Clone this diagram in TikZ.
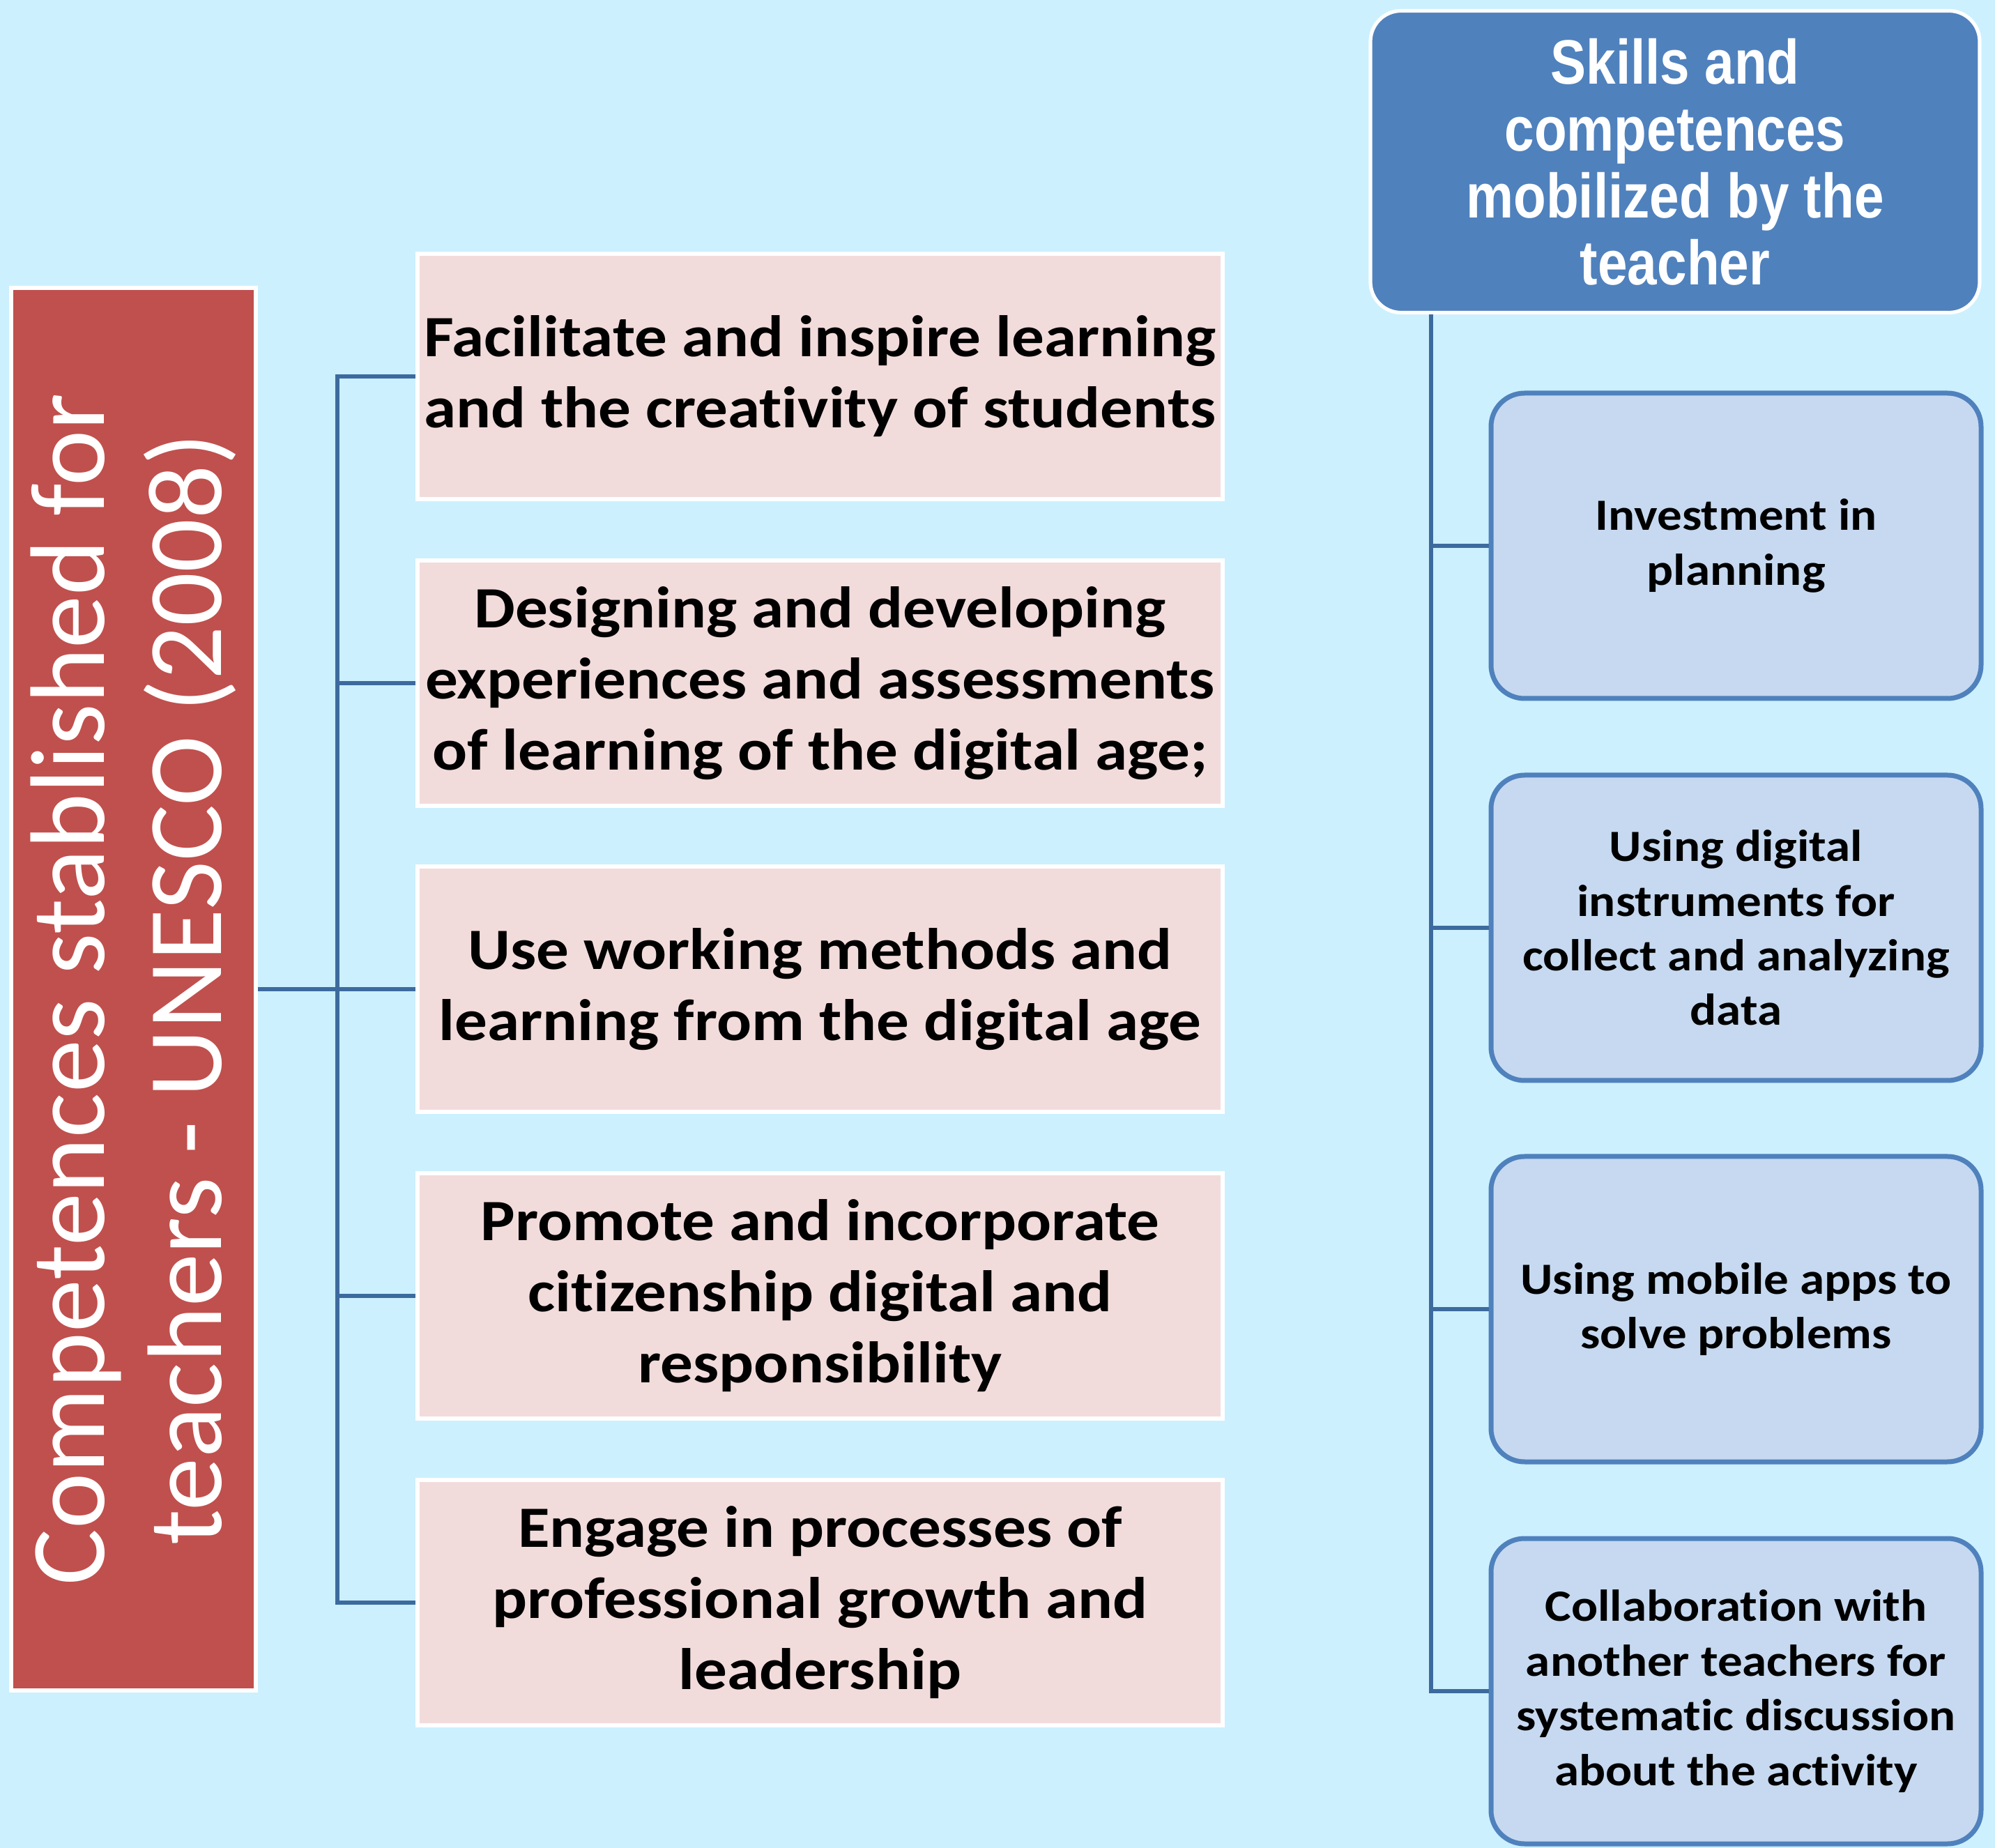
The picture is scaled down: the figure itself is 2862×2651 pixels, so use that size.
\documentclass[tikz,border=0pt]{standalone}
\usepackage{fontspec}
\setmainfont{Carlito}
\newfontfamily\boxfont[FakeStretch=1.11, Ligatures=NoCommon]{Carlito}
\newfontfamily\narrowfont[FakeStretch=0.85]{Liberation Sans}
\definecolor{bgc}{HTML}{CCF0FE}
\definecolor{redbox}{HTML}{C0504D}
\definecolor{pinkbox}{HTML}{F2DCDB}
\definecolor{headblue}{HTML}{4F81BD}
\definecolor{itemblue}{HTML}{C6D9F0}
\definecolor{linkblue}{HTML}{3D6A9E}
\tikzset{
  conn/.style={draw=linkblue, line width=1.3pt},
  pinkitem/.style={rectangle, fill=pinkbox, draw=white, line width=1.5pt,
    minimum width=288.75pt, minimum height=88pt, align=center, inner sep=0pt,
    font=\boxfont\fontsize{21}{25.5}\selectfont\bfseries},
  blueitem/.style={rectangle, rounded corners=12pt, fill=itemblue, draw=headblue,
    line width=1.75pt, minimum width=175.75pt, minimum height=109.5pt,
    align=center, inner sep=0pt, font=\boxfont\fontsize{16}{19.6}\selectfont\bfseries},
  headbox/.style={rectangle, rounded corners=11pt, fill=headblue, draw=white,
    line width=1.3pt, minimum width=218.5pt, minimum height=108.25pt,
    align=center, inner sep=0pt, text=white,
    font=\narrowfont\fontsize{22.5}{24}\selectfont\bfseries},
  sidebox/.style={rectangle, fill=redbox, draw=white, line width=1.3pt,
    minimum width=87.75pt, minimum height=503pt, inner sep=0pt},
}
\begin{document}
\begin{tikzpicture}[x=0.25pt, y=-0.25pt]
  \fill[bgc] (0,0) rectangle (2862,2651);
  \useasboundingbox (0,0) rectangle (2862,2651);

  % left column: UNESCO competences
  \node[sidebox] (side) at (191.5,1419) {};
  \node[rotate=90, text=white, align=center,
        font=\fontsize{38}{42}\selectfont] (sidetext) at (side.center)
    {Competences stablished for\\teachers - UNESCO (2008)};

  \node[pinkitem] (p1) at (1176.5,540)
    {Facilitate and inspire learning\\and the creativity of students};
  \node[pinkitem] (p2) at (1176.5,980)
    {Designing and developing\\experiences and assessments\\of learning of the digital age;};
  \node[pinkitem] (p3) at (1176.5,1419)
    {Use working methods and\\learning from the digital age};
  \node[pinkitem] (p4) at (1176.5,1859)
    {Promote and incorporate\\citizenship digital and\\responsibility};
  \node[pinkitem] (p5) at (1176.5,2299)
    {Engage in processes of\\professional growth and\\leadership};

  \coordinate (lbus) at (484,1419);
  \draw[conn] (side.east) -- (p3.west);
  \draw[conn] (p1.west) -- (p1.west -| lbus) -- (p5.west -| lbus) -- (p5.west);
  \draw[conn] (p2.west -| lbus) -- (p2.west);
  \draw[conn] (p4.west -| lbus) -- (p4.west);

  % right column: teacher skills
  \node[headbox] (head) at (2403,232)
    {Skills and\\competences\\mobilized by the\\teacher};

  \node[blueitem] (r1) at (2490.5,783) {Investment in\\planning};
  \node[blueitem] (r2) at (2490.5,1331)
    {Using digital\\instruments for\\collect and analyzing\\data};
  \node[blueitem] (r3) at (2490.5,1878) {Using mobile apps to\\solve problems};
  \node[blueitem] (r4) at (2490.5,2426)
    {Collaboration with\\another teachers for\\systematic discussion\\about the activity};

  \coordinate (rbus) at (2053,783);
  \draw[conn] (head.south -| rbus) -- (r4.west -| rbus) -- (r4.west);
  \draw[conn] (r1.west -| rbus) -- (r1.west);
  \draw[conn] (r2.west -| rbus) -- (r2.west);
  \draw[conn] (r3.west -| rbus) -- (r3.west);
\end{tikzpicture}
\end{document}
